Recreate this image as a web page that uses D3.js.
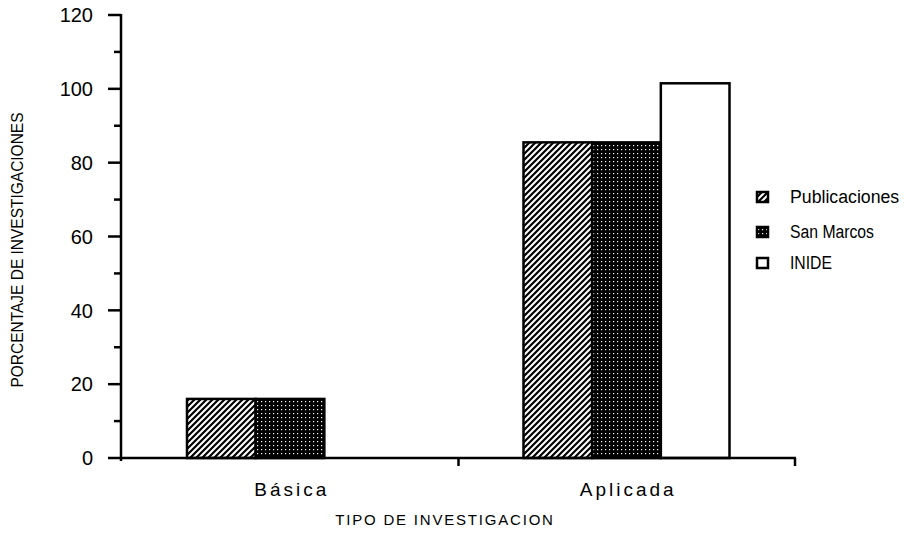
<!DOCTYPE html>
<html>
<head>
<meta charset="utf-8">
<script src="https://cdn.jsdelivr.net/npm/d3@7"></script>
<style>
body { margin: 0; background: #fff; }
text { font-family: "Liberation Sans", Arial, sans-serif; fill: #000; }
</style>
</head>
<body>
<script>
const categories = ["Básica", "Aplicada"];
const series = ["Publicaciones", "San Marcos", "INIDE"];
const values = {
  "Publicaciones": [16, 85.5],
  "San Marcos": [16, 85.5],
  "INIDE": [0, 101.5]
};
const yTicks = [0, 20, 40, 60, 80, 100, 120];

let width = 907, height = 539;

let svg = d3.select("body").append("svg").attr("width", width).attr("height", height);

let defs = svg.append("defs");
let hatch = defs.append("pattern").attr("id", "hatch").attr("patternUnits", "userSpaceOnUse")
  .attr("width", 6).attr("height", 6);
hatch.append("rect").attr("width", 6).attr("height", 6).attr("fill", "#fff");
hatch.append("path").attr("d", "M-1,7 L7,-1 M-4,4 L4,-4 M2,10 L10,2")
  .attr("stroke", "#000").attr("stroke-width", 2.2);

let dots = defs.append("pattern").attr("id", "dots").attr("patternUnits", "userSpaceOnUse")
  .attr("width", 4).attr("height", 4);
dots.append("rect").attr("width", 4).attr("height", 4).attr("fill", "#000");
dots.append("rect").attr("x", 1).attr("y", 1).attr("width", 1.2).attr("height", 1.2).attr("fill", "#fff");

const fills = {"Publicaciones": "url(#hatch)", "San Marcos": "url(#dots)", "INIDE": "#fff"};

let x = d3.scaleBand().domain(categories).range([122, 795]);
let xs = d3.scaleBand().domain(series).range([65, 271]);
let y = d3.scaleLinear().domain([0, 120]).range([458, 15]);

// bars
series.forEach(function(s) {
  svg.append("g").selectAll("rect")
    .data(categories.map(function(c, i) { return {c: c, v: values[s][i]}; }).filter(function(d) { return d.v > 0; }))
    .enter().append("rect")
    .attr("x", function(d) { return x(d.c) + xs(s); })
    .attr("y", function(d) { return y(d.v); })
    .attr("width", xs.bandwidth())
    .attr("height", function(d) { return y(0) - y(d.v); })
    .attr("fill", fills[s])
    .attr("stroke", "#000")
    .attr("stroke-width", 2.5);
});

// y axis
let yAxis = svg.append("g");
yAxis.append("line").attr("x1", 121).attr("x2", 121).attr("y1", y(120) - 1).attr("y2", y(0) + 3)
  .attr("stroke", "#000").attr("stroke-width", 2.5);
yAxis.selectAll(".major").data(yTicks).enter().append("line")
  .attr("x1", 108).attr("x2", 121).attr("y1", d => y(d)).attr("y2", d => y(d))
  .attr("stroke", "#000").attr("stroke-width", 2.5);
yAxis.selectAll(".minor").data(d3.range(10, 120, 20)).enter().append("line")
  .attr("x1", 114).attr("x2", 121).attr("y1", d => y(d)).attr("y2", d => y(d))
  .attr("stroke", "#000").attr("stroke-width", 2.5);
yAxis.selectAll("text").data(yTicks).enter().append("text")
  .attr("x", 93).attr("y", d => y(d)).attr("dy", "0.36em")
  .attr("text-anchor", "end").style("font-size", "20px").text(d => d);

// x axis
let xAxis = svg.append("g");
xAxis.append("line").attr("x1", 120).attr("x2", 796).attr("y1", 458).attr("y2", 458)
  .attr("stroke", "#000").attr("stroke-width", 2.5);
xAxis.selectAll(".tick").data(categories).enter().append("line")
  .attr("x1", d => x(d) + x.bandwidth()).attr("x2", d => x(d) + x.bandwidth())
  .attr("y1", 458).attr("y2", 466)
  .attr("stroke", "#000").attr("stroke-width", 2.5);
xAxis.selectAll("text").data(categories).enter().append("text")
  .attr("x", d => x(d) + x.bandwidth() / 2 + 1.5).attr("y", 496)
  .attr("text-anchor", "middle").style("font-size", "19px").style("letter-spacing", "3px")
  .text(d => d);

svg.append("text").attr("x", 445).attr("y", 525).attr("text-anchor", "middle")
  .style("font-size", "15px").style("letter-spacing", "1.8px").text("TIPO DE INVESTIGACION");

svg.append("text").attr("transform", "translate(23,250) rotate(-90)").attr("text-anchor", "middle")
  .attr("textLength", 275).attr("lengthAdjust", "spacingAndGlyphs")
  .style("font-size", "16px").text("PORCENTAJE DE INVESTIGACIONES");

// legend
let legendY = [197, 232, 263];
let legend = svg.append("g").selectAll("g").data(series).enter().append("g")
  .attr("transform", (d, i) => "translate(757," + legendY[i] + ")");
legend.append("rect").attr("x", 0).attr("y", -5).attr("width", 11).attr("height", 10)
  .attr("fill", d => fills[d]).attr("stroke", "#000").attr("stroke-width", 2.5);
legend.append("text").attr("x", 33).attr("y", 0).attr("dy", "0.35em")
  .attr("textLength", d => d.length * 8.4).attr("lengthAdjust", "spacingAndGlyphs")
  .style("font-size", "18px").text(d => d);
</script>
</body>
</html>
